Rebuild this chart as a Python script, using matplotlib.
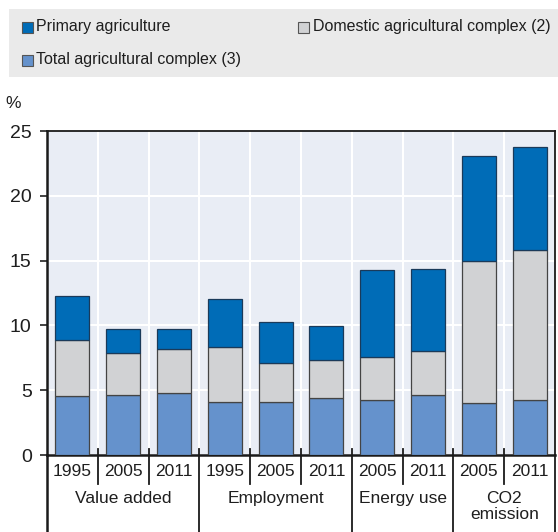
import matplotlib
matplotlib.use("Agg")
import matplotlib.pyplot as plt
from matplotlib.patches import Rectangle
import matplotlib.transforms as mtransforms

plt.rcParams['font.family'] = ['Liberation Sans', 'DejaVu Sans']
fs_leg, fs_tick, fs_lab = 11.5, 14, 12.5

years = ["1995", "2005", "2011", "1995", "2005", "2011", "2005", "2011", "2005", "2011"]
groups = ["Value added", "Employment", "Energy use", "CO2\nemission"]
group_sizes = [3, 3, 2, 2]
total_complex = [4.55, 4.6, 4.8, 4.1, 4.1, 4.4, 4.25, 4.6, 4.05, 4.25]
domestic_complex = [8.9, 7.9, 8.2, 8.3, 7.1, 7.3, 7.6, 8.0, 15.0, 15.85]
primary_agri = [12.25, 9.75, 9.75, 12.05, 10.25, 9.95, 14.25, 14.35, 23.1, 23.8]
legend_labels = ["Primary agriculture", "Domestic agricultural complex (2)", "Total agricultural complex (3)"]
yticks = [0, 5, 10, 15, 20, 25]

c_dark = "#006CB7"
c_grey = "#D1D2D4"
c_light = "#6592CC"
txt = "#1e1e1e"

W, H = 558, 532
fig = plt.figure(figsize=(W / 100, H / 100), dpi=100)

fig.patches.append(Rectangle((9 / W, 1 - 77 / H), (W - 9) / W, 68 / H,
                             transform=fig.transFigure, facecolor="#EAEAEA", edgecolor="none", zorder=0))

def leg_item(x, y, tx, color, label):
    fig.patches.append(Rectangle((x / W, 1 - (y + 5.5) / H), 11 / W, 11 / H,
                                 transform=fig.transFigure, facecolor=color,
                                 edgecolor="#555555", linewidth=0.8, zorder=1))
    fig.text(tx / W, 1 - y / H, label, fontsize=fs_leg, va="center", ha="left", color=txt)

leg_item(22, 27, 36, c_dark, legend_labels[0])
leg_item(298, 27, 313, c_grey, legend_labels[1])
leg_item(22, 60, 36, c_light, legend_labels[2])

ax = fig.add_axes([47 / W, 1 - 455 / H, 508 / W, 324 / H])
ax.set_facecolor("#E9EDF5")

x = list(range(len(years)))
bw = 0.67
edge = "#444444"
ax.bar(x, total_complex, width=bw, color=c_light, edgecolor=edge, linewidth=0.9, zorder=3)
ax.bar(x, [d - t for d, t in zip(domestic_complex, total_complex)], bottom=total_complex,
       width=bw, color=c_grey, edgecolor=edge, linewidth=0.9, zorder=3)
ax.bar(x, [p - d for p, d in zip(primary_agri, domestic_complex)], bottom=domestic_complex,
       width=bw, color=c_dark, edgecolor="#1A3A5A", linewidth=0.9, zorder=3)

ax.set_xlim(-0.5, len(years) - 0.5)
ax.set_ylim(0, 25)
ax.set_yticks(yticks)
ax.set_yticklabels([str(v) for v in yticks], fontsize=fs_tick, color=txt)
ax.tick_params(axis="y", direction="out", length=5, width=1.2, pad=6, color="#222222")
ax.set_xticks([])

for yv in yticks[1:-1]:
    ax.axhline(yv, color="white", lw=1.5, zorder=1)
for xv in [i + 0.5 for i in range(len(years) - 1)]:
    ax.axvline(xv, color="white", lw=1.5, zorder=1)

for s in ["left", "bottom"]:
    ax.spines[s].set_linewidth(1.8)
    ax.spines[s].set_color("#1a1a1a")
for s in ["top", "right"]:
    ax.spines[s].set_linewidth(1.3)
    ax.spines[s].set_color("#1a1a1a")

trans = mtransforms.blended_transform_factory(ax.transData, ax.transAxes)
ph = 324.0
for xi, yr in zip(x, years):
    ax.text(xi, -16 / ph, yr, transform=trans, ha="center", va="center", fontsize=fs_lab, color=txt)

group_bounds = []
acc = 0
for g in group_sizes:
    group_bounds.append((acc, acc + g))
    acc += g
group_edges = set(b for _, b in group_bounds[:-1])
for i in range(len(years) - 1):
    xv = i + 0.5
    low = -77 / ph if (i + 1) in group_edges else -29 / ph
    ax.plot([xv, xv], [6 / ph, low], transform=trans, color="#1a1a1a", lw=1.3, clip_on=False, zorder=5)
ax.plot([-0.5, -0.5], [0, -77 / ph], transform=trans, color="#1a1a1a", lw=1.8, clip_on=False)
ax.plot([9.5, 9.5], [0, -77 / ph], transform=trans, color="#1a1a1a", lw=1.3, clip_on=False)

for (a, b), name in zip(group_bounds, groups):
    cx = (a + b - 1) / 2
    ax.text(cx, -36 / ph, name, transform=trans, ha="center", va="top", fontsize=fs_lab,
            color=txt, linespacing=1.1)

fig.text(13 / W, 1 - 103 / H, "%", fontsize=12.5, ha="center", va="center", color=txt)

fig.savefig("out.png", dpi=100)
